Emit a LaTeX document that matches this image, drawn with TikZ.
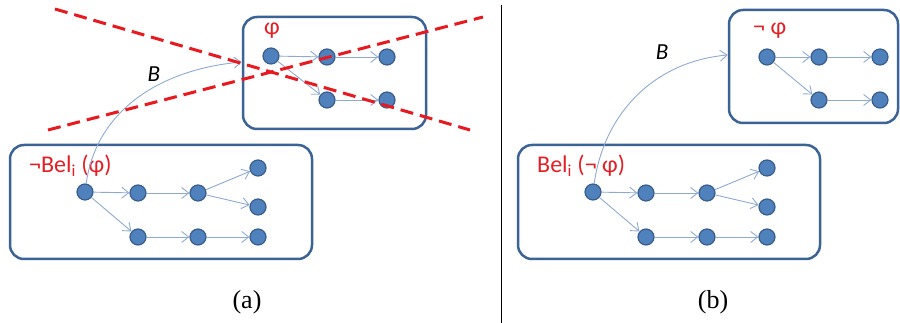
\documentclass[tikz,border=0pt]{standalone}
\usepackage{fontspec}
\setmainfont{Carlito}
\newfontfamily\capfont{Liberation Serif}
\usetikzlibrary{arrows.meta,positioning}
\definecolor{boxblue}{HTML}{3B6396}
\definecolor{dotfill}{HTML}{4F81BD}
\definecolor{dotline}{HTML}{385D8A}
\definecolor{linkblue}{HTML}{8EAAD2}
\definecolor{labred}{HTML}{E31E24}
\definecolor{crossred}{HTML}{E8191F}
\tikzset{
  grp/.style={draw=boxblue,line width=2.5pt,rounded corners=14pt,inner sep=0pt},
  dot/.style={circle,draw=dotline,line width=1.2pt,fill=dotfill,
    minimum size=16pt,inner sep=0pt},
  link/.style={-{Straight Barb[length=7pt,width=11pt]},linkblue,line width=0.9pt},
  lbl/.style={text=labred,font=\fontsize{24}{26}\selectfont,inner sep=0pt},
  rel/.style={font=\itshape\fontsize{23}{25}\selectfont,inner sep=0pt},
  cross/.style={crossred,line width=3pt,dash pattern=on 13pt off 7pt},
  subcap/.style={font=\capfont\fontsize{26}{30}\selectfont,inner sep=0pt},
}

\begin{document}
\begin{tikzpicture}[x=1pt,y=-1pt]
\useasboundingbox (0,0) rectangle (900,323);
% (a) the believed world is crossed out
\node[grp,minimum width=302pt,minimum height=114pt] (botA) at (161,202) {};
\node[grp,minimum width=183pt,minimum height=112pt] (topA) at (334.5,73) {};
\node[lbl,anchor=west] (belA) at (29,166) {¬Bel\textsubscript{i} (φ)};
\node[lbl] (phiA) at (272,31) {φ};
\node[dot] (m1) at (85,192) {};
\node[dot] (m2) at (138,193) {};
\node[dot] (m3) at (198,193) {};
\node[dot] (m4) at (258,168) {};
\node[dot] (m5) at (258,207) {};
\node[dot] (m6) at (138,237) {};
\node[dot] (m7) at (198,237) {};
\node[dot] (m8) at (258,237) {};
\draw[link] (m1)--(m2); \draw[link] (m2)--(m3);
\draw[link] (m3)--(m4); \draw[link] (m3)--(m5);
\draw[link] (m1)--(m6); \draw[link] (m6)--(m7); \draw[link] (m7)--(m8);
\node[dot] (n1) at (271,56) {};
\node[dot] (n2) at (327,57) {};
\node[dot] (n3) at (387,57) {};
\node[dot] (n4) at (327,100) {};
\node[dot] (n5) at (387,100) {};
\draw[link] (n1)--(n2); \draw[link] (n2)--(n3);
\draw[link] (n1)--(n4); \draw[link] (n4)--(n5);
\coordinate (inA) at ([yshift=11pt]topA.west);
\draw[link] (m1) to[out=82,in=185] (inA);
\node[rel] (bA) at (154,74) {B};
\draw[cross] (55,9) -- (470,130);
\draw[cross] (48,130) -- (483,17);
\node[subcap] (capA) at (247,302) {(a)};
% divider
\draw[line width=0.8pt] (501,5) -- (501,323);
% (b) the accessible world holds the negation
\node[grp,minimum width=302pt,minimum height=114pt] (botB) at (669,202) {};
\node[grp,minimum width=169pt,minimum height=113pt] (topB) at (813.5,66.5) {};
\node[lbl,anchor=west] (belB) at (537,166) {Bel\textsubscript{i} (¬ φ)};
\node[lbl,anchor=west] (phiB) at (753,31) {¬ φ};
\node[dot] (q1) at (593,192) {};
\node[dot] (q2) at (646,193) {};
\node[dot] (q3) at (707,193) {};
\node[dot] (q4) at (767,168) {};
\node[dot] (q5) at (767,207) {};
\node[dot] (q6) at (646,237) {};
\node[dot] (q7) at (707,237) {};
\node[dot] (q8) at (767,237) {};
\draw[link] (q1)--(q2); \draw[link] (q2)--(q3);
\draw[link] (q3)--(q4); \draw[link] (q3)--(q5);
\draw[link] (q1)--(q6); \draw[link] (q6)--(q7); \draw[link] (q7)--(q8);
\node[dot] (p1) at (767,57) {};
\node[dot] (p2) at (819,57) {};
\node[dot] (p3) at (880,57) {};
\node[dot] (p4) at (819,100) {};
\node[dot] (p5) at (880,100) {};
\draw[link] (p1)--(p2); \draw[link] (p2)--(p3);
\draw[link] (p1)--(p4); \draw[link] (p4)--(p5);
\coordinate (inB) at ([yshift=11.5pt]topB.west);
\draw[link] (q1) to[out=82,in=185] (inB);
\node[rel] (bB) at (662,52) {B};
\node[subcap] (capB) at (713,302) {(b)};
\end{tikzpicture}
\end{document}
